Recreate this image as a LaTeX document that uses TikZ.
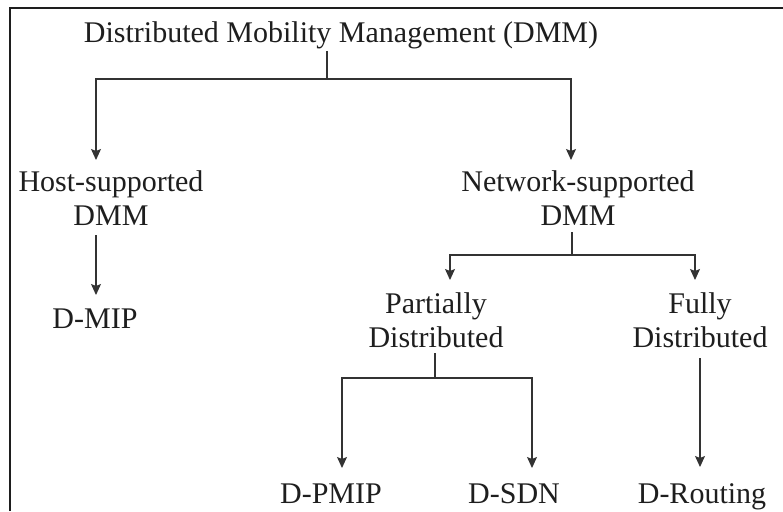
\documentclass[tikz,border=0pt]{standalone}
\usepackage{fontspec}
\setmainfont{Liberation Serif}
\usetikzlibrary{arrows.meta}
\newcommand{\twolines}[2]{\begin{tabular}[t]{@{}c@{}}#1\\#2\end{tabular}}
\definecolor{ink}{HTML}{1E1E1E}
\definecolor{wire}{HTML}{333333}
\begin{document}
\begin{tikzpicture}[x=1pt,y=-1pt,
  lbl/.style={anchor=base,inner sep=0pt,text=ink,font=\fontsize{30}{34.5}\selectfont},
  wireline/.style={draw=wire,line width=1.1pt},
  arr/.style={wireline,-{Stealth[length=11pt,width=10pt,inset=2pt]}},
  frameline/.style={draw=ink,line width=2pt}]
\useasboundingbox (0,0) rectangle (783,511);
\draw[frameline] (10,511) -- (10,8.5) -- (783,8.5);

\node[lbl] (title) at (341,42) {Distributed Mobility Management (DMM)};
\node[lbl] (host) at (111,191) {\twolines{Host-supported}{DMM}};
\node[lbl] (net) at (578,191) {\twolines{Network-supported}{DMM}};
\node[lbl] (dmip) at (95,328) {D-MIP};
\node[lbl] (part) at (436,313) {\twolines{Partially}{Distributed}};
\node[lbl] (full) at (700,313) {\twolines{Fully}{Distributed}};
\node[lbl] (dpmip) at (331,503) {D-PMIP};
\node[lbl] (dsdn) at (514,503) {D-SDN};
\node[lbl] (drout) at (702,503) {D-Routing};

\coordinate (t0) at ([xshift=-14pt,yshift=-9pt]title.base);
\coordinate (j1) at ([xshift=-14pt,yshift=-37pt]title.base);
\coordinate (hIn) at ([xshift=-15pt,yshift=31pt]host.base);
\coordinate (nIn) at ([xshift=-7pt,yshift=31pt]net.base);
\coordinate (hOut) at ([xshift=-15pt,yshift=-44pt]host.base);
\coordinate (dIn) at ([xshift=1pt,yshift=33pt]dmip.base);
\coordinate (nOut) at ([xshift=-6pt,yshift=-41pt]net.base);
\coordinate (j2) at ([xshift=-6pt,yshift=-64pt]net.base);
\coordinate (pIn) at ([xshift=14pt,yshift=33pt]part.base);
\coordinate (fIn) at ([xshift=-5pt,yshift=33pt]full.base);
\coordinate (pOut) at ([xshift=-1pt,yshift=-40pt]part.base);
\coordinate (j3) at ([xshift=-1pt,yshift=-65pt]part.base);
\coordinate (ppIn) at ([xshift=11pt,yshift=35pt]dpmip.base);
\coordinate (sIn) at ([xshift=18pt,yshift=35pt]dsdn.base);
\coordinate (fOut) at ([yshift=-45pt]full.base);
\coordinate (rIn) at ([xshift=-2pt,yshift=36pt]drout.base);

\draw[wireline] (t0) -- (j1);
\draw[arr] (j1) -| (hIn);
\draw[arr] (j1) -| (nIn);
\draw[arr] (hOut) -- (hOut |- dIn);
\draw[wireline] (nOut) -- (j2);
\draw[arr] (j2) -| (pIn);
\draw[arr] (j2) -| (fIn);
\draw[wireline] (pOut) -- (j3);
\draw[arr] (j3) -| (ppIn);
\draw[arr] (j3) -| (sIn);
\draw[arr] (fOut) -- (fOut |- rIn);
\end{tikzpicture}
\end{document}
